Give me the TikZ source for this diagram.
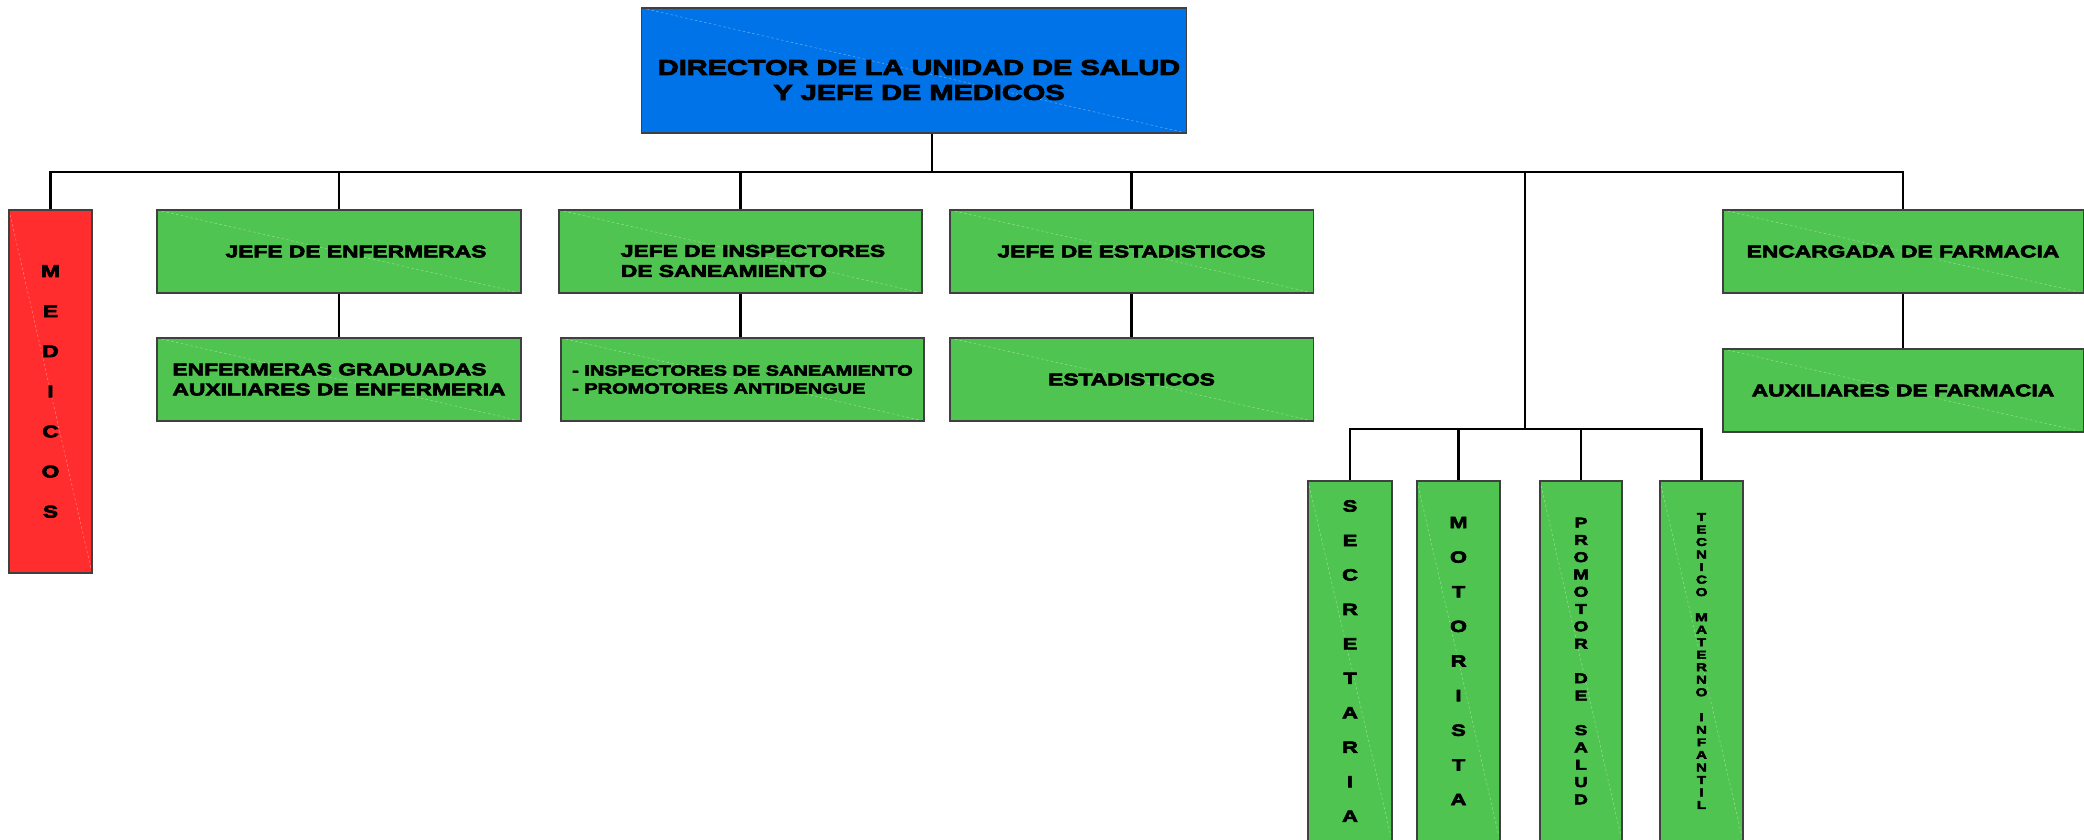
\documentclass[tikz,border=0pt]{standalone}
\usepackage{fontspec}
\newfontfamily\orgfont{Liberation Sans Bold}[FakeStretch=1.35,FakeBold=4]
\definecolor{dirblue}{RGB}{0,115,232}
\definecolor{boxgreen}{RGB}{80,196,80}
\definecolor{medred}{RGB}{255,45,45}

\begin{document}
\begin{tikzpicture}[x=0.01cm,y=-0.01cm]

  \tikzset{box/.style={draw=black!75,line width=.35pt,fill=boxgreen,inner sep=0pt,align=center,
      font=\orgfont\fontsize{4.8}{5.7}\selectfont,
      path picture={\draw[white,opacity=.4,dash pattern=on .7pt off .7pt,line width=.15pt]
        (path picture bounding box.north west) -- (path picture bounding box.south east);}},
    boxsize/.style 2 args={minimum width=#1cm,minimum height=#2cm},
    boxtext/.style={align=left,inner sep=0pt,font=\orgfont\fontsize{4.8}{5.7}\selectfont},
    link/.style={line width=.6pt}}
  \useasboundingbox (0,0) rectangle (2084,840);
  \clip (0,0) rectangle (2084,840);

  % top
  \node[box,fill=dirblue,boxsize={5.44}{1.25}] (dir) at (914,70.5) {};
  \node[boxtext,align=center,font=\orgfont\fontsize{6.1}{7.1}\selectfont] (dirtext) at (919,80)
    {DIRECTOR DE LA UNIDAD DE SALUD\\Y JEFE DE MEDICOS};

  % first row
  \node[box,fill=medred,boxsize={0.83}{3.63},font=\orgfont\fontsize{4.8}{11.4}\selectfont] (med) at (50.5,391.5)
    {M\\E\\D\\I\\C\\O\\S};
  \node[box,boxsize={3.64}{0.83}] (jenf) at (339,251.5) {};
  \node[boxtext] (jenftext) at (356,251.5) {JEFE DE ENFERMERAS};
  \node[box,boxsize={3.63}{0.83}] (jins) at (740.5,251.5) {};
  \node[boxtext] (jinstext) at (753,261) {JEFE DE INSPECTORES\\DE SANEAMIENTO};
  \node[box,boxsize={3.63}{0.83}] (jest) at (1131.5,251.5) {JEFE DE ESTADISTICOS};
  \node[box,boxsize={3.60}{0.83}] (enc) at (1903,251.5) {ENCARGADA DE FARMACIA};

  % second row
  \node[box,boxsize={3.64}{0.83},align=left] (enf) at (339,379.5) {ENFERMERAS GRADUADAS\\AUXILIARES DE ENFERMERIA};
  \node[box,boxsize={3.63}{0.83},align=left,font=\orgfont\fontsize{4.2}{5.1}\selectfont] (ins) at (742.5,379.5)
    {- INSPECTORES DE SANEAMIENTO\\- PROMOTORES ANTIDENGUE};
  \node[box,boxsize={3.63}{0.83}] (est) at (1131.5,379.5) {ESTADISTICOS};
  \node[box,boxsize={3.60}{0.83}] (aux) at (1903,390.5) {AUXILIARES DE FARMACIA};

  % tall boxes at the bottom
  \node[box,boxsize={0.84}{3.6},font=\orgfont\fontsize{4.6}{9.8}\selectfont] (sec) at (1350,661)
    {S\\E\\C\\R\\E\\T\\A\\R\\I\\A};
  \node[box,boxsize={0.83}{3.6},font=\orgfont\fontsize{4.6}{9.85}\selectfont] (mot) at (1458.5,661)
    {M\\O\\T\\O\\R\\I\\S\\T\\A};
  \node[box,boxsize={0.82}{3.6},font=\orgfont\fontsize{4.0}{4.92}\selectfont] (pro) at (1581,661)
    {P\\R\\O\\M\\O\\T\\O\\R\\[4.92pt]D\\E\\[4.92pt]S\\A\\L\\U\\D};
  \node[box,boxsize={0.83}{3.6},font=\orgfont\fontsize{3.2}{3.56}\selectfont] (tec) at (1701.5,661)
    {T\\E\\C\\N\\I\\C\\O\\[3.56pt]M\\A\\T\\E\\R\\N\\O\\[3.56pt]I\\N\\F\\A\\N\\T\\I\\L};

  % lines
  \coordinate (bus) at (932,172);
  \coordinate (lowbus) at (1525,429);
  \draw[link] (bus) -- (bus |- dir.south);
  \foreach \n in {med,jenf,jins,jest,enc}
    \draw[link] (bus) -| (\n.north);
  \draw[link] (bus) -| (lowbus);
  \foreach \n in {sec,mot,pro,tec}
    \draw[link] (lowbus) -| (\n.north);
  \foreach \a/\b in {jenf/enf,jins/ins,jest/est,enc/aux}
    \draw[link] (\a.south) -- (\a.south |- \b.north);
\end{tikzpicture}
\end{document}
